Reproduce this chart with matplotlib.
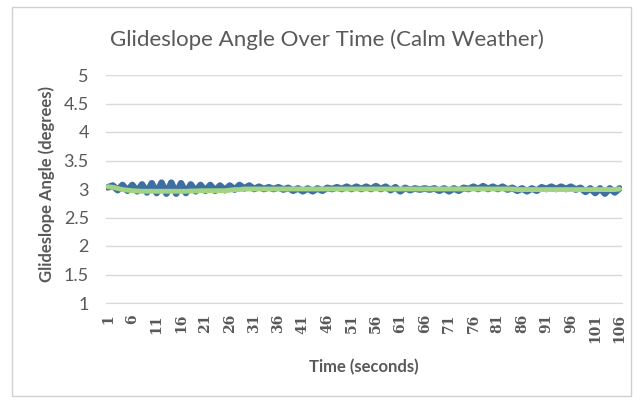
import matplotlib
matplotlib.use('Agg')
import matplotlib.pyplot as plt
from matplotlib.patches import Rectangle

TITLE = 'Glideslope Angle Over Time (Calm Weather)'
X_LABEL = 'Time (seconds)'
Y_LABEL = 'Glideslope Angle (degrees)'

# seconds 1..106
time_s = list(range(1, 107))

# measured glideslope angle (blue, noisy)
angle_measured = [
	3.03, 3.06, 2.98, 3.07, 2.97, 3.07, 2.96, 3.08, 2.94, 3.10,
	2.93, 3.11, 2.92, 3.11, 2.92, 3.10, 2.93, 3.08, 2.96, 3.07,
	2.97, 3.07, 2.97, 3.06, 2.98, 3.06, 2.99, 3.07, 3.01, 3.06,
	3.00, 3.04, 3.00, 3.03, 3.00, 3.03, 2.99, 3.02, 2.97, 3.01,
	2.96, 3.01, 2.96, 3.01, 2.97, 3.02, 3.00, 3.03, 3.00, 3.04,
	3.00, 3.04, 3.00, 3.04, 3.00, 3.05, 3.00, 3.04, 2.98, 3.03,
	2.96, 3.02, 2.98, 3.01, 2.99, 3.01, 2.99, 3.01, 2.97, 3.01,
	2.96, 3.01, 2.97, 3.02, 3.00, 3.04, 3.00, 3.05, 3.00, 3.04,
	3.00, 3.04, 2.99, 3.02, 2.97, 3.01, 2.96, 3.01, 2.97, 3.03,
	3.00, 3.04, 3.00, 3.04, 3.00, 3.04, 2.99, 3.02, 2.95, 3.01,
	2.93, 3.01, 2.92, 3.01, 2.94, 3.01,
]

# smoothed angle (green)
angle_smooth = [
	3.04, 3.03, 3.01, 2.99, 2.98, 2.97, 2.965, 2.96, 2.96, 2.96,
	2.96, 2.96, 2.96, 2.96, 2.96, 2.96, 2.96, 2.965, 2.965, 2.97,
	2.97, 2.97, 2.97, 2.97, 2.97, 2.98, 2.99, 2.99, 3.00, 3.00,
	3.00, 3.00, 3.00, 3.00, 3.00, 3.00, 3.00, 3.00, 3.00, 3.00,
	3.00, 3.00, 3.00, 3.00, 3.00, 3.00, 3.00, 3.00, 3.00, 3.00,
	3.00, 3.00, 3.00, 3.00, 3.00, 3.00, 3.00, 3.00, 3.00, 3.00,
	3.00, 3.00, 3.00, 3.00, 3.00, 3.00, 3.00, 3.00, 3.00, 3.00,
	3.00, 3.00, 3.00, 3.00, 3.00, 3.00, 3.00, 3.00, 3.00, 3.00,
	3.00, 3.00, 3.00, 3.00, 2.99, 2.99, 2.99, 2.99, 2.99, 2.99,
	2.99, 2.99, 2.99, 2.99, 2.99, 2.99, 2.99, 2.99, 2.99, 2.99,
	2.99, 2.99, 2.99, 2.99, 2.99, 3.00,
]

y_ticks = [1, 1.5, 2, 2.5, 3, 3.5, 4, 4.5, 5]
x_tick_labels = [str(t) for t in time_s[::5]]

plt.rcParams['font.family'] = ['Lato', 'DejaVu Sans']
TEXT_GREY = '#595959'
GRID_GREY = '#D9D9D9'

fig = plt.figure(figsize=(6.41, 4.0), dpi=100)
fig.patch.set_facecolor('white')
fig.patches.append(Rectangle((12 / 641, 4 / 400), 619 / 641, 389 / 400,
	transform=fig.transFigure, fill=False, edgecolor='#D0D0D0', linewidth=1.0))

ax = fig.add_axes([105.5 / 641, 1 - 303 / 400, 516.5 / 641, 228 / 400])

ax.plot(time_s, angle_measured, color='#3E6FA3', linewidth=4.8, solid_capstyle='round', solid_joinstyle='round')
ax.plot(time_s, angle_smooth, color='#A3D483', linewidth=3.5, solid_capstyle='round')

ax.set_xlim(0.5, 106.5)
ax.set_ylim(1, 5)
ax.set_yticks(y_ticks)
ax.set_yticklabels(['%g' % v for v in y_ticks])
ax.set_xticks(time_s[::5])
ax.set_xticklabels(x_tick_labels, rotation=90, family='DejaVu Serif', fontweight='bold', fontsize=10)

ax.grid(axis='y', color=GRID_GREY, linewidth=1.0)
ax.set_axisbelow(True)
for side in ['top', 'right', 'left']:
	ax.spines[side].set_visible(False)
ax.spines['bottom'].set_color(GRID_GREY)
ax.tick_params(axis='both', length=0, colors=TEXT_GREY)
ax.tick_params(axis='y', pad=12, labelsize=13)
ax.tick_params(axis='x', pad=8)

ax.set_xlabel(X_LABEL, fontsize=12, fontweight='bold', color=TEXT_GREY, va='center')
ax.xaxis.set_label_coords(0.5, (303 - 367) / 228)
ax.set_ylabel(Y_LABEL, fontsize=12, fontweight='bold', color=TEXT_GREY, va='center')
ax.yaxis.set_label_coords((47 - 105.5) / 516.5, (303 - 184) / 228)

fig.text(327 / 641, 1 - 40 / 400, TITLE, ha='center', va='center', fontsize=16, color=TEXT_GREY)

plt.savefig('out.png', dpi=100)
